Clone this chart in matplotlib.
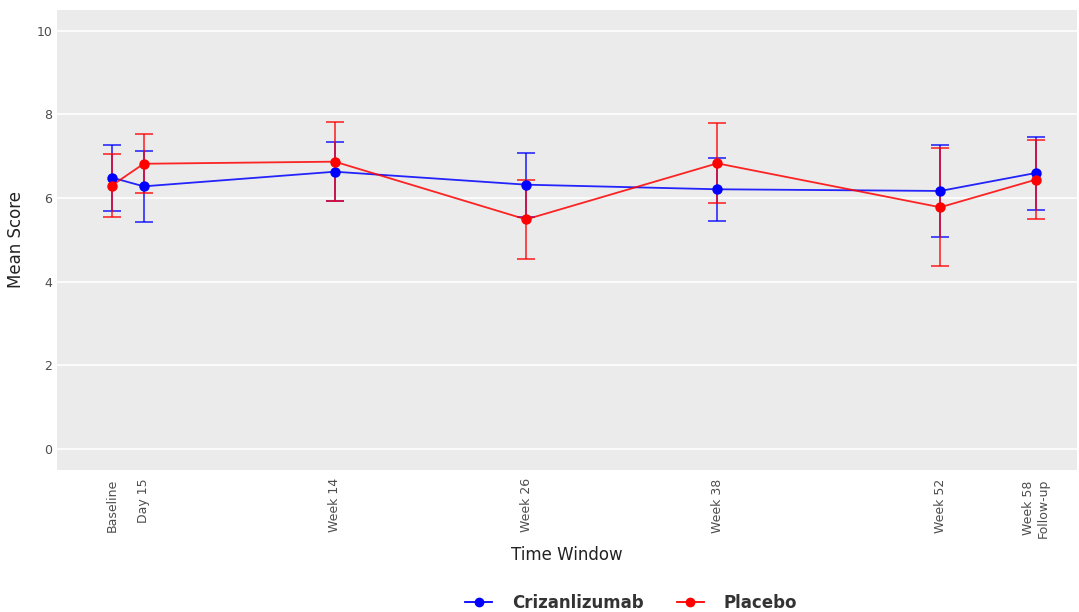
import matplotlib
matplotlib.use("Agg")
import matplotlib.pyplot as plt
from matplotlib.lines import Line2D

# days from baseline for each visit window
days = [0, 14, 98, 182, 266, 364, 406]
tick_labels = ["Baseline", "Day 15", "Week 14", "Week 26", "Week 38", "Week 52", "Week 58\nFollow-up"]

criz_mean = [6.49, 6.28, 6.63, 6.32, 6.21, 6.17, 6.60]
criz_low = [5.70, 5.43, 5.92, 5.55, 5.45, 5.07, 5.72]
criz_high = [7.26, 7.13, 7.35, 7.08, 6.95, 7.27, 7.47]

plac_mean = [6.30, 6.82, 6.87, 5.49, 6.83, 5.78, 6.44]
plac_low = [5.54, 6.11, 5.92, 4.55, 5.89, 4.37, 5.51]
plac_high = [7.06, 7.52, 7.83, 6.44, 7.79, 7.20, 7.38]

fig = plt.figure(figsize=(10.79, 6.12), dpi=100)
ax = fig.add_axes([0.053, 0.232, 0.945, 0.752])
ax.set_facecolor("#EBEBEB")
for s in ax.spines.values():
    s.set_visible(False)

series = [
    ("Crizanlizumab", "#0000FF", criz_mean, criz_low, criz_high),
    ("Placebo", "#FF0000", plac_mean, plac_low, plac_high),
]
handles = []
for name, col, m, lo, hi in series:
    yerr = [[a - b for a, b in zip(m, lo)], [b - a for a, b in zip(m, hi)]]
    ax.errorbar(days, m, yerr=yerr, color=col, fmt="none", elinewidth=1.3,
                capsize=6.5, capthick=1.3, alpha=0.75, zorder=2)
    ax.plot(days, m, color=col, linewidth=1.3, alpha=0.85, zorder=3)
    ax.plot(days, m, color=col, marker="o", markersize=6.5, linestyle="none", zorder=4)
    handles.append(Line2D([], [], color=col, marker="o", markersize=6, linewidth=1.3, label=name))

ax.set_xlim(-24, 424)
ax.set_ylim(-0.5, 10.5)
ax.set_yticks([0, 2, 4, 6, 8, 10])
ax.set_xticks(days)
ax.set_xticklabels(tick_labels, rotation=90, va="top")
ax.tick_params(axis="both", length=0, labelsize=9, colors="#4D4D4D")
ax.tick_params(axis="x", pad=6)
ax.grid(axis="y", color="white", linewidth=1.2)
ax.set_axisbelow(True)

ax.set_xlabel("Time Window", fontsize=12, color="#222222", labelpad=6)
ax.set_ylabel("Mean Score", fontsize=12, color="#222222", labelpad=8)

leg = fig.legend(handles=handles, loc="lower center", bbox_to_anchor=(0.585, -0.025),
                 ncol=2, frameon=False, prop={"weight": "bold", "size": 12},
                 handlelength=1.6, columnspacing=2.0, handletextpad=1.2)
for t in leg.get_texts():
    t.set_color("#333333")

fig.savefig("out.png", dpi=100)
